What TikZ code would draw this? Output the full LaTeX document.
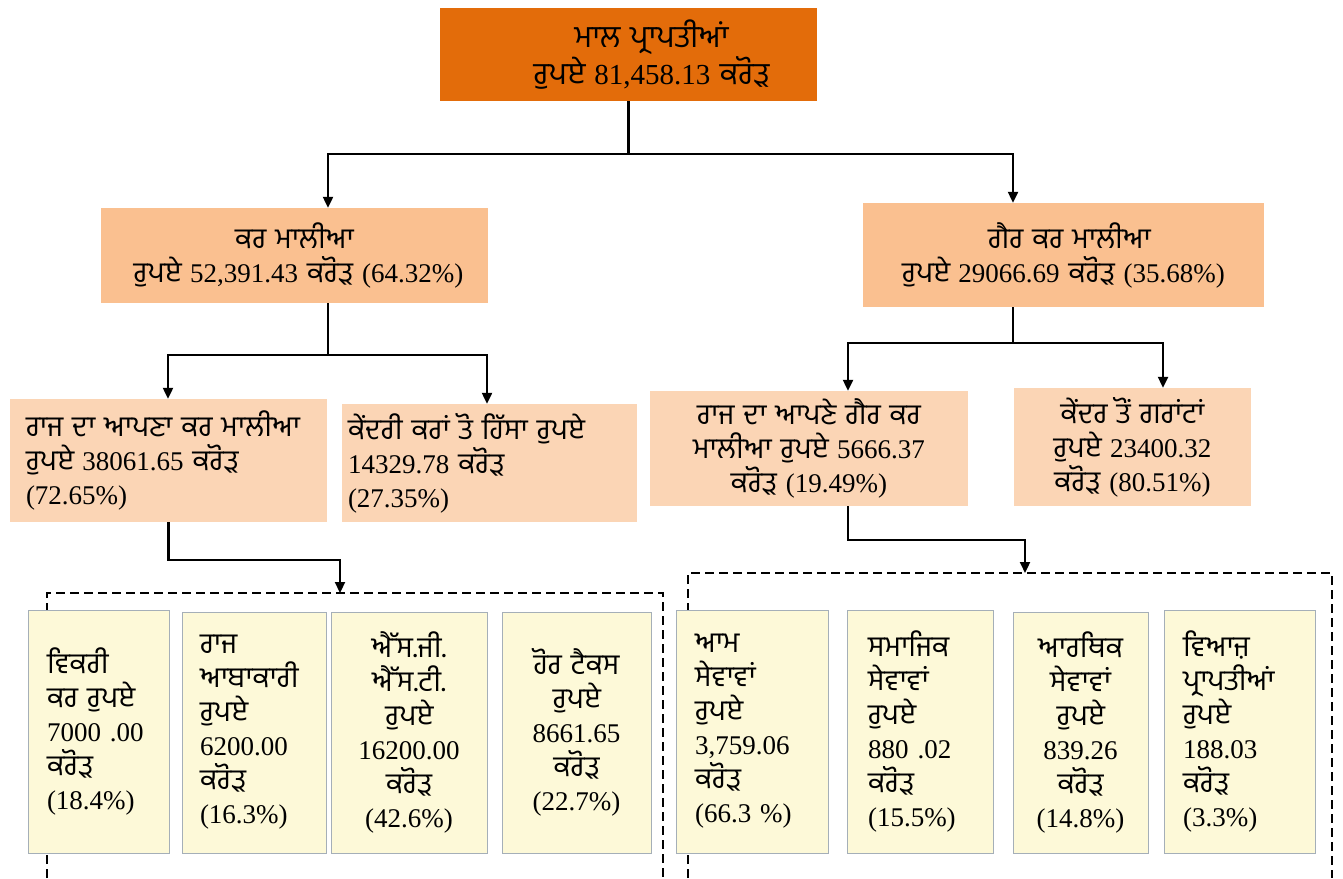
\documentclass[tikz,border=0pt]{standalone}
\usepackage{fontspec}
\setmainfont{Liberation Serif}
\newfontfamily\gur[Script=Gurmukhi,Scale=1.065]{Hind Jalandhar}
\newcommand\gtx[1]{{\gur #1}}
\usetikzlibrary{arrows.meta,calc}
\definecolor{topc}{HTML}{E36C0A}
\definecolor{midc}{HTML}{FAC090}
\definecolor{lowc}{HTML}{FBD5B5}
\definecolor{yelc}{HTML}{FDF9D8}
\definecolor{bordc}{HTML}{A5AFB8}
\tikzset{
  conn/.style={line width=2.2pt, black},
  arr/.style={line width=2.2pt, black, -{Triangle[length=11pt,width=10pt]}},
  dashline/.style={line width=2pt, black, dash pattern=on 9pt off 5pt},
  topbox/.style={fill=topc, inner sep=0pt, align=center, font=\fontsize{29}{37}\selectfont},
  midbox/.style={fill=midc, inner sep=0pt, align=center, font=\fontsize{27}{34}\selectfont},
  lowbox/.style={fill=lowc, inner ysep=0pt, font=\fontsize{27}{34}\selectfont},
  botbox/.style={fill=yelc, draw=bordc, line width=1pt, inner ysep=0pt, font=\fontsize{27}{34}\selectfont},
}
\begin{document}
\begin{tikzpicture}[x=1pt,y=-1pt]
\useasboundingbox (0,0) rectangle (1343,878);
\fill[white] (0,0) rectangle (1343,878);

% dashed group frames
\draw[dashline] (47,878) -- (47,593) -- (663,593) -- (663,878);
\draw[dashline] (688,878) -- (688,573) -- (1332,573) -- (1332,878);

% level 1
\node[topbox, minimum width=377pt, minimum height=93pt, text width=377pt] (top) at (628.5,54.5)
  {\hspace*{46pt}\gtx{ਮਾਲ ਪ੍ਰਾਪਤੀਆਂ}\\ \hspace*{46pt}\gtx{ਰੁਪਏ} 81,458.13 \gtx{ਕਰੋੜ}};

% level 2
\node[midbox, minimum width=387pt, minimum height=95pt, text width=387pt] (kar) at (294.5,255.5)
  {\gtx{ਕਰ ਮਾਲੀਆ}\\ \hspace*{8pt}\gtx{ਰੁਪਏ} 52,391.43 \gtx{ਕਰੋੜ} (64.32\%)};
\node[midbox, minimum width=401pt, minimum height=104pt, text width=401pt] (gair) at (1063.5,255)
  {\hspace*{12pt}\gtx{ਗੈਰ ਕਰ ਮਾਲੀਆ}\\ \gtx{ਰੁਪਏ} 29066.69 \gtx{ਕਰੋੜ} (35.68\%)};

% level 3
\node[lowbox, minimum height=123pt, inner xsep=16pt, text width=285pt, align=left] (A) at (168.5,460.5)
  {\gtx{ਰਾਜ ਦਾ ਆਪਣਾ ਕਰ ਮਾਲੀਆ}\\ \gtx{ਰੁਪਏ} 38061.65 \gtx{ਕਰੋੜ}\\ (72.65\%)};
\node[lowbox, minimum height=118pt, inner xsep=6pt, text width=283pt, align=left] (B) at (489.5,463)
  {\gtx{ਕੇਂਦਰੀ ਕਰਾਂ ਤੋ ਹਿੱਸਾ ਰੁਪਏ}\\ 14329.78 \gtx{ਕਰੋੜ}\\ (27.35\%)};
\node[lowbox, minimum height=115pt, inner xsep=6pt, text width=306pt, align=center] (C) at (809,448.5)
  {\gtx{ਰਾਜ ਦਾ ਆਪਣੇ ਗੈਰ ਕਰ}\\ \gtx{ਮਾਲੀਆ ਰੁਪਏ} 5666.37\\ \gtx{ਕਰੋੜ} (19.49\%)};
\node[lowbox, minimum height=118pt, inner xsep=6pt, text width=225pt, align=center] (D) at (1132.5,447)
  {\gtx{ਕੇਂਦਰ ਤੋਂ ਗਰਾਂਟਾਂ}\\ \gtx{ਰੁਪਏ} 23400.32\\ \gtx{ਕਰੋੜ} (80.51\%)};

% bottom boxes
\node[botbox, minimum height=243pt, inner xsep=19pt, text width=103pt, align=left] (b1) at (98.5,731.5)
  {\gtx{ਵਿਕਰੀ}\\ \gtx{ਕਰ ਰੁਪਏ}\\ 7000 .00\\ \gtx{ਕਰੋੜ}\\ (18.4\%)};
\node[botbox, minimum height=241pt, inner xsep=18pt, text width=108pt, align=left] (b2) at (254,732.5)
  {\gtx{ਰਾਜ}\\ \gtx{ਆਬਾਕਾਰੀ}\\ \gtx{ਰੁਪਏ}\\ 6200.00\\ \gtx{ਕਰੋੜ}\\ (16.3\%)};
\node[botbox, minimum height=241pt, inner xsep=6pt, text width=144pt, align=center] (b3) at (409,732.5)
  {\gtx{ਐੱਸ.ਜੀ.}\\ \gtx{ਐੱਸ.ਟੀ.}\\ \gtx{ਰੁਪਏ}\\ 16200.00\\ \gtx{ਕਰੋੜ}\\ (42.6\%)};
\node[botbox, minimum height=241pt, inner xsep=6pt, text width=137pt, align=center] (b4) at (576.5,732.5)
  {\gtx{ਹੋਰ ਟੈਕਸ}\\ \gtx{ਰੁਪਏ}\\ 8661.65\\ \gtx{ਕਰੋੜ}\\ (22.7\%)};
\node[botbox, minimum height=243pt, inner xsep=19pt, text width=114pt, align=left] (b5) at (752,731.5)
  {\gtx{ਆਮ}\\ \gtx{ਸੇਵਾਵਾਂ}\\ \gtx{ਰੁਪਏ}\\ 3,759.06\\ \gtx{ਕਰੋੜ}\\ (66.3 \%)};
\node[botbox, minimum height=243pt, inner xsep=21pt, text width=104pt, align=left] (b6) at (920,731.5)
  {\gtx{ਸਮਾਜਿਕ}\\ \gtx{ਸੇਵਾਵਾਂ}\\ \gtx{ਰੁਪਏ}\\ 880 .02\\ \gtx{ਕਰੋੜ}\\ (15.5\%)};
\node[botbox, minimum height=241pt, inner xsep=6pt, text width=123pt, align=center] (b7) at (1080.5,732.5)
  {\gtx{ਆਰਥਿਕ}\\ \gtx{ਸੇਵਾਵਾਂ}\\ \gtx{ਰੁਪਏ}\\ 839.26\\ \gtx{ਕਰੋੜ}\\ (14.8\%)};
\node[botbox, minimum height=243pt, inner xsep=19pt, text width=113pt, align=left] (b8) at (1239.5,731.5)
  {\gtx{ਵਿਆਜ਼}\\ \gtx{ਪ੍ਰਾਪਤੀਆਂ}\\ \gtx{ਰੁਪਏ}\\ 188.03\\ \gtx{ਕਰੋੜ}\\ (3.3\%)};

% connectors level 1 -> 2
\coordinate (j0) at (628.5,154);
\coordinate (jl) at (328,154);
\coordinate (jr) at (1013,154);
\draw[conn] (top.south) -- (j0);
\draw[arr] (j0) -- (jl) -- (jl |- kar.north);
\draw[arr] (j0) -- (jr) -- (jr |- gair.north);

% kar -> A, B
\coordinate (k0) at (328,355);
\coordinate (kl) at (168,355);
\coordinate (kr) at (487,355);
\draw[conn] (kar.south -| k0) -- (k0);
\draw[arr] (k0) -- (kl) -- (kl |- A.north);
\draw[arr] (k0) -- (kr) -- (kr |- B.north);

% gair -> C, D
\coordinate (g0) at (1013,343);
\coordinate (gl) at (848,343);
\coordinate (gr) at (1163,343);
\draw[conn] (gair.south -| g0) -- (g0);
\draw[arr] (g0) -- (gl) -- (gl |- C.north);
\draw[arr] (g0) -- (gr) -- (gr |- D.north);

% A -> left group, C -> right group
\coordinate (a1) at (340,560);
\coordinate (lgtop) at (340,593);
\draw[arr] (A.south) |- (a1) -- (lgtop);
\coordinate (c0) at (848,540);
\coordinate (c1) at (1025,540);
\coordinate (rgtop) at (1025,573);
\draw[arr] (C.south -| c0) -- (c0) -- (c1) -- (rgtop);
\end{tikzpicture}
\end{document}
